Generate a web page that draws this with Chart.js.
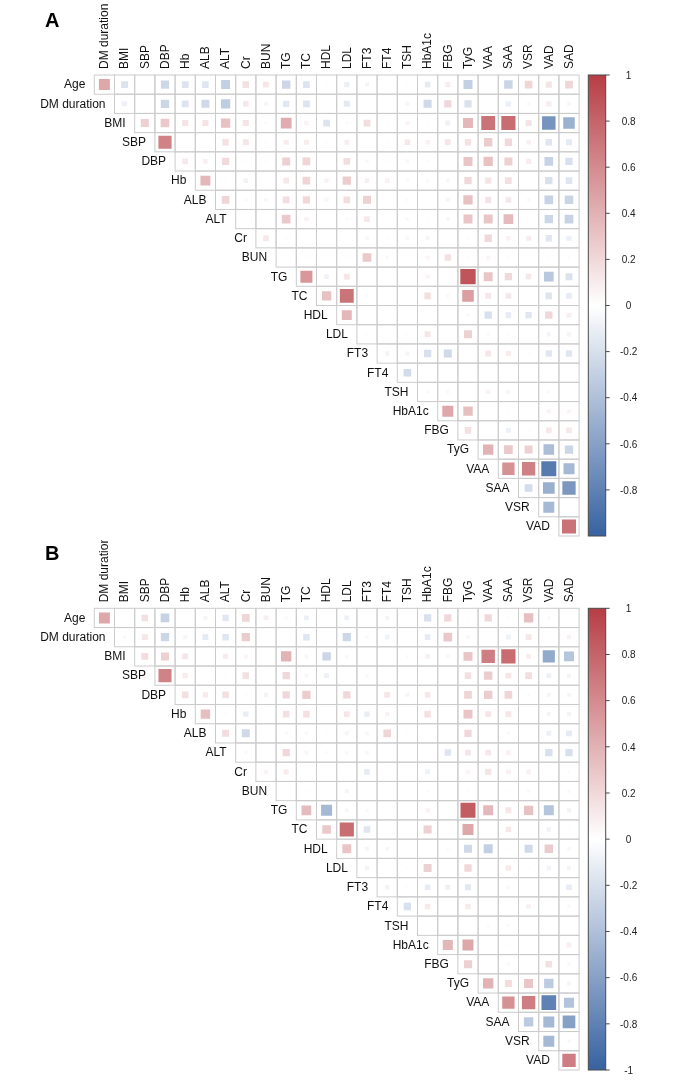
<!DOCTYPE html>
<html>
<head>
<meta charset="utf-8">
<script src="https://cdn.jsdelivr.net/npm/chart.js@4.4.1/dist/chart.umd.min.js"></script>
<style>
  html, body { margin: 0; padding: 0; background: #fff; }
  body { width: 685px; height: 1080px; position: relative; overflow: hidden; }
  canvas { position: absolute; left: 0; }
  #chartA { top: 0; }
  #chartB { top: 540px; }
</style>
</head>
<body>
<canvas id="chartA" width="685" height="540"></canvas>
<canvas id="chartB" width="685" height="540"></canvas>
<script>
const vars = ['Age','DM duration','BMI','SBP','DBP','Hb','ALB','ALT','Cr','BUN','TG','TC','HDL','LDL',
  'FT3','FT4','TSH','HbA1c','FBG','TyG','VAA','SAA','VSR','VAD','SAD'];

// upper triangle: row i holds r(vars[i], vars[i+1..])
const corrA = [
  [0.45,-0.18,0,-0.25,-0.17,-0.16,-0.3,0.16,0.13,-0.26,-0.17,0.02,-0.1,-0.06,0.02,0.02,-0.12,0.1,-0.3,0,-0.27,0.22,0.14,0.22],
  [-0.09,-0.02,-0.26,-0.17,-0.24,-0.32,0.12,0.06,-0.15,-0.17,0,-0.14,0.01,0.02,0.06,-0.24,0.2,-0.19,-0.02,-0.1,0.04,0.1,0.05],
  [0.24,0.28,0.14,0.14,0.32,0.14,0.03,0.43,0.07,-0.17,0.03,0.17,0.02,0.06,0.02,-0.09,0.37,0.72,0.75,0.14,-0.68,-0.5],
  [0.65,0,0.01,0.15,0.13,0.02,0.1,0.1,0.02,0.09,0,0.02,0.12,0.08,0.13,0.15,0.26,0.2,0.08,-0.16,-0.13],
  [0.12,0.08,0.19,0.02,0.02,0.24,0.22,0,0.17,0.04,0.02,0.05,0.03,0,0.3,0.32,0.24,0.1,-0.28,-0.2],
  [0.37,0.02,-0.08,0,0.12,0.22,0.07,0.26,0.08,0.08,-0.04,0.04,-0.05,0.2,0.14,0.16,0.01,-0.2,-0.16],
  [0.22,-0.04,-0.05,0.17,0.2,0.06,0.17,0.24,0.02,-0.03,0,-0.06,0.32,0.14,0.12,0.04,-0.28,-0.27],
  [0.02,0,0.28,0.07,0,0.03,0.12,0,0.04,0.02,-0.05,0.3,0.3,0.35,0,-0.26,-0.28],
  [0.12,0.02,0,0.01,0,-0.05,0.02,0.05,-0.06,0,0.02,0.2,0.07,0.1,-0.15,-0.1],
  [0,0.02,0,0.02,0.28,-0.04,0,0.06,0.15,0.03,0.06,0.02,0,0.02,0.03],
  [0.54,-0.08,0.13,0.01,0.02,0,0.06,0.01,0.88,0.3,0.2,0.12,-0.35,-0.18],
  [0.32,0.72,-0.04,0,0,0.16,0.04,0.5,0.13,0.12,0.02,-0.16,-0.12],
  [0.37,0,0.01,0,0.01,0,-0.04,-0.2,-0.12,-0.15,0.2,0.09],
  [-0.02,0.01,0.02,0.13,0,0.24,0.04,0.03,0,-0.07,-0.07],
  [-0.07,-0.06,-0.2,-0.24,0.01,0.13,0.1,0.02,-0.15,-0.15],
  [-0.22,0,0,0.01,0,0,0,0.01,0.01],
  [-0.04,0.04,0.02,0.07,0.06,0.02,-0.04,0.01],
  [0.45,0.33,0.02,0.02,0.01,0.06,0.06],
  [0.16,-0.02,-0.09,0.02,0.12,0.12],
  [0.4,0.28,0.24,-0.42,-0.26],
  [0.57,0.66,-0.84,-0.45],
  [-0.22,-0.51,-0.66],
  [-0.45,0],
  [0.73]
];

const corrB = [
  [0.45,0,0.16,-0.28,0,-0.06,-0.15,0.22,0.09,0.04,-0.09,0.01,-0.09,0.01,-0.06,0.01,-0.2,0.2,0.02,0.2,-0.03,0.33,-0.04,0],
  [-0.04,0.13,-0.26,-0.06,-0.13,-0.16,0.26,0,0.01,-0.16,0.01,-0.25,-0.04,-0.08,0,-0.12,0.28,-0.05,0,-0.08,0.13,0.01,0.07],
  [0.18,0.24,0.13,0,0.1,0.06,0,0.4,0.05,-0.26,0.04,0.01,0.01,0.03,0.08,-0.05,0.3,0.67,0.76,0.09,-0.55,-0.37],
  [0.64,0.1,0,0.02,0.16,0.01,0.2,0.05,-0.09,0.01,-0.04,0.02,0,0.01,0.01,0.16,0.26,0.13,0.17,-0.09,-0.06],
  [0.16,0.11,0.16,0.02,-0.07,0.2,0.26,0,0.2,0.01,0.13,-0.06,0.12,0.02,0.22,0.26,0.22,0.03,-0.06,-0.06],
  [0.33,0.02,-0.11,0,0.16,0.16,0,0.13,-0.11,0.07,0.01,0.16,0.02,0.3,0.13,0.13,0.01,-0.06,-0.07],
  [0.18,-0.24,0,0.04,0.04,0.02,0.06,0.05,0.22,0.02,0.01,0,0.2,0,0.04,0,-0.09,-0.13],
  [-0.04,0.02,0.2,0.05,-0.03,0.04,0.05,0.01,0.01,0,-0.16,0.13,0.12,0.08,0.01,-0.2,-0.2],
  [0.06,0.1,0.02,0,0,-0.12,0,0,-0.09,0.02,0.06,0.14,0.08,0.08,0.02,0.03],
  [0,0.02,0.01,0.06,0,0,0,-0.03,0.01,0.02,0,0.02,0.04,0,0.04],
  [0.35,-0.45,0.05,-0.04,0.01,0,0.07,0.01,0.84,0.37,0.13,0.32,-0.37,-0.07],
  [0.28,0.75,-0.16,0.01,0,0.24,0,0.45,0.02,0.12,0,-0.08,-0.02],
  [0.3,-0.06,-0.05,0.01,0.01,0.03,-0.24,-0.3,0.02,-0.24,0.27,0.05],
  [-0.07,0.01,-0.02,0.24,0,0.2,0.02,0.11,-0.02,-0.07,-0.06],
  [-0.07,-0.02,-0.12,-0.09,-0.14,0.01,0.04,0.01,0.01,-0.12],
  [-0.2,0.11,0.01,0.11,0.02,0.01,0.08,0.01,0.04],
  [0.01,0,0,0.03,-0.04,0.01,0,0.01],
  [0.38,0.45,0.02,0.02,0,0,0.09],
  [0.24,0.01,-0.04,0.02,0.16,0.04],
  [0.4,0.18,0.3,-0.33,-0.06],
  [0.57,0.67,-0.8,-0.38],
  [-0.33,-0.45,-0.6],
  [-0.45,0.04],
  [0.67]
];

const barTicksA = [1,0.8,0.6,0.4,0.2,0,-0.2,-0.4,-0.6,-0.8];
const barTicksB = [1,0.8,0.6,0.4,0.2,0,-0.2,-0.4,-0.6,-0.8,-1];

const RED = [182, 62, 68], BLUE = [55, 98, 160];
function corrColor(v){
  const c = v >= 0 ? RED : BLUE, t = Math.min(1, Math.abs(v));
  const m = c.map(k => Math.round(255 + (k - 255) * t));
  return `rgb(${m[0]},${m[1]},${m[2]})`;
}

const FONT = '"Liberation Sans", Arial, Helvetica, sans-serif';
const N = vars.length - 1;

function toPoints(mat){
  const pts = [];
  mat.forEach((row, i) => row.forEach((v, k) => pts.push({ x: i + k, y: i, v: v })));
  return pts;
}

const corrDecor = {
  id: 'corrDecor',
  beforeDatasetsDraw(chart){
    const { ctx, scales: { x, y } } = chart;
    ctx.save();
    ctx.strokeStyle = '#cbcbcb';
    ctx.lineWidth = 1;
    for (let i = 0; i < N; i++){
      for (let c = i; c < N; c++){
        const x0 = x.getPixelForValue(c - 0.5), x1 = x.getPixelForValue(c + 0.5);
        const y0 = y.getPixelForValue(i - 0.5), y1 = y.getPixelForValue(i + 0.5);
        ctx.strokeRect(x0, y0, x1 - x0, y1 - y0);
      }
    }
    ctx.restore();
  },
  afterDraw(chart, args, opts){
    const { ctx, chartArea: a, scales: { x, y } } = chart;
    ctx.save();
    ctx.fillStyle = '#111';
    ctx.font = '12px ' + FONT;

    // row labels, right aligned next to the first cell of each row
    ctx.textAlign = 'right';
    ctx.textBaseline = 'middle';
    for (let i = 0; i < N; i++){
      ctx.fillText(vars[i], x.getPixelForValue(i - 0.5) - 9, y.getPixelForValue(i) + 0.5);
    }
    // column labels, vertical
    ctx.textAlign = 'left';
    for (let c = 0; c < N; c++){
      ctx.save();
      ctx.translate(x.getPixelForValue(c) + 0.5, a.top - 6);
      ctx.rotate(-Math.PI / 2);
      ctx.fillText(vars[c + 1], 0, 0);
      ctx.restore();
    }

    // colour bar
    const bx = a.right + 9.2, bw = 17.4, top = a.top, h = a.bottom - a.top;
    const g = ctx.createLinearGradient(0, top, 0, top + h);
    g.addColorStop(0, corrColor(1));
    g.addColorStop(0.5, corrColor(0));
    g.addColorStop(1, corrColor(-1));
    ctx.fillStyle = g;
    ctx.fillRect(bx, top, bw, h);
    ctx.strokeStyle = '#4a4a4a';
    ctx.lineWidth = 1;
    ctx.strokeRect(bx, top, bw, h);
    ctx.fillStyle = '#222';
    ctx.font = '10px ' + FONT;
    ctx.textAlign = 'center';
    ctx.textBaseline = 'middle';
    opts.ticks.forEach(v => {
      const ty = top + (1 - v) / 2 * h;
      ctx.beginPath();
      ctx.moveTo(bx + bw, ty);
      ctx.lineTo(bx + bw + 4, ty);
      ctx.stroke();
      ctx.fillText(String(v), a.right + 49.5, ty + 1);
    });

    // panel letter
    ctx.fillStyle = '#000';
    ctx.font = 'bold 20px ' + FONT;
    ctx.textAlign = 'left';
    ctx.textBaseline = 'alphabetic';
    ctx.fillText(opts.letter, 45, a.top - 48);
    ctx.restore();
  }
};

function corrConfig(mat, letter, ticks, top, bottom){
  return {
    type: 'scatter',
    data: {
      datasets: [{
        data: toPoints(mat),
        pointStyle: 'rect',
        borderWidth: 0,
        backgroundColor: c => corrColor(c.raw ? c.raw.v : 0),
        borderColor: 'rgba(0,0,0,0)',
        pointRadius: c => {
          const sx = c.chart.scales.x;
          const cw = sx.getPixelForValue(1) - sx.getPixelForValue(0);
          const v = c.raw ? Math.abs(c.raw.v) : 0;
          return cw * 0.81 * Math.sqrt(v) / Math.SQRT2;
        }
      }]
    },
    options: {
      responsive: false,
      animation: false,
      events: [],
      layout: { padding: { left: 94.3, right: 685 - 579.1, top: top, bottom: 540 - bottom } },
      plugins: {
        legend: { display: false },
        tooltip: { enabled: false },
        corrDecor: { letter: letter, ticks: ticks }
      },
      scales: {
        x: { type: 'linear', min: -0.5, max: N - 0.5, display: false },
        y: { type: 'linear', min: -0.5, max: N - 0.5, reverse: true, display: false }
      }
    },
    plugins: [corrDecor]
  };
}

new Chart(document.getElementById('chartA'), corrConfig(corrA, 'A', barTicksA, 75, 536));
new Chart(document.getElementById('chartB'), corrConfig(corrB, 'B', barTicksB, 68.3, 530));
</script>
</body>
</html>
